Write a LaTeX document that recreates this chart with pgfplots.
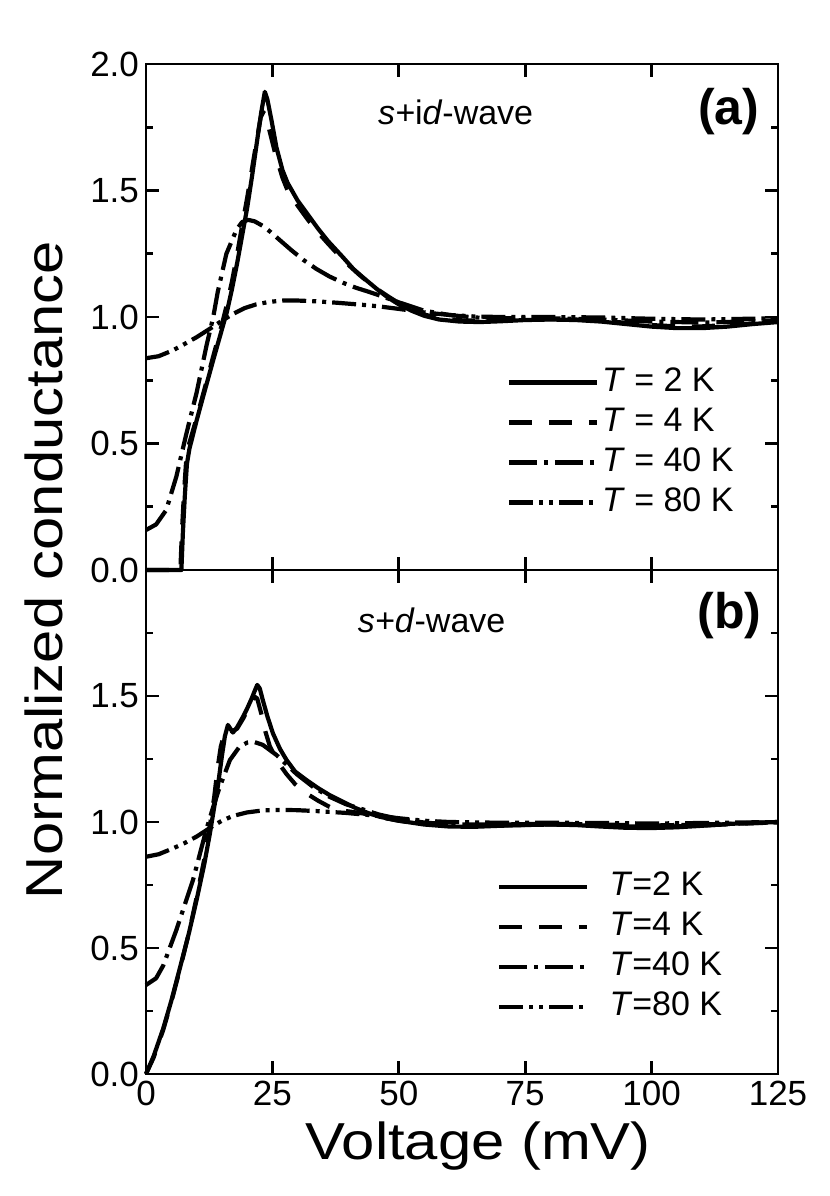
\documentclass[border=0pt]{standalone}
\usepackage{fontspec}
\setmainfont{Liberation Sans}
\newfontfamily\labelfont[FakeStretch=1.15]{Liberation Sans}
\usepackage{pgfplots}
\pgfplotsset{compat=1.18}

\pgfplotstableread{
x y
0 0
7.0 0
7.3 0.15
7.7 0.30
8.1 0.42
8.6 0.48
10.0 0.59
11.5 0.70
13.3 0.83
15.0 0.95
16.0 1.02
17.0 1.11
18.0 1.21
19.0 1.32
20.0 1.43
21.0 1.56
22.0 1.70
22.8 1.81
23.5 1.89
24.0 1.86
24.8 1.78
25.8 1.67
27.0 1.58
28.0 1.53
30.0 1.46
32.0 1.405
34.0 1.35
36.0 1.30
39.0 1.235
41.0 1.19
43.0 1.155
46.0 1.105
48.0 1.075
50.0 1.05
52.5 1.025
55 1.005
58 0.99
62 0.982
66 0.98
70 0.983
75 0.988
80 0.99
85 0.988
90 0.982
95 0.972
100 0.962
105 0.956
110 0.956
115 0.962
120 0.972
125 0.98
}\Atwo

\pgfplotstableread{
x y
0 0
6.8 0
7.1 0.15
7.5 0.30
7.9 0.42
8.4 0.49
10.0 0.60
11.5 0.71
13.3 0.845
15.0 0.97
16.0 1.05
17.0 1.14
18.0 1.245
19.0 1.36
20.0 1.47
21.0 1.59
22.0 1.71
22.7 1.79
23.2 1.81
23.8 1.79
24.5 1.73
25.5 1.65
27.0 1.55
28.0 1.50
30.0 1.44
32.0 1.385
34.0 1.335
36.0 1.29
39.0 1.225
42.0 1.17
45.0 1.12
48.0 1.08
50.0 1.055
52.5 1.03
55 1.01
58 0.995
62 0.987
66 0.985
70 0.987
75 0.99
80 0.992
85 0.99
90 0.985
95 0.977
100 0.968
105 0.963
110 0.963
115 0.968
120 0.975
125 0.982
}\Afour

\pgfplotstableread{
x y
0 0.158
2 0.18
4 0.237
6 0.369
8 0.54
10 0.70
12 0.89
13.3 1.00
14.2 1.10
15.9 1.25
17.9 1.345
19.0 1.375
20.2 1.384
21.5 1.378
23.1 1.36
24.7 1.335
26.4 1.305
28.7 1.265
31.1 1.226
33.7 1.19
36.3 1.16
39.0 1.135
41.6 1.115
44.0 1.10
46.2 1.085
50 1.058
55 1.025
60 1.008
65 0.998
70 0.995
80 0.995
90 0.99
100 0.982
110 0.978
118 0.982
125 0.988
}\Aforty

\pgfplotstableread{
x y
0 0.837
2.5 0.845
5.3 0.868
7.5 0.892
10.0 0.92
13.3 0.962
15.0 0.985
17.2 1.012
19.5 1.035
21.8 1.05
24.5 1.06
27.1 1.065
30 1.065
33.7 1.062
38 1.056
42.9 1.048
46 1.042
50 1.032
55 1.018
60 1.008
65 1.002
70 1.0
80 1.0
90 0.998
100 0.993
110 0.99
125 0.995
}\Aeighty

\pgfplotstableread{
x y
0 0
1.5 0.07
3.4 0.18
5 0.29
6.7 0.42
8.5 0.56
10 0.69
11.5 0.83
12.6 0.95
13.5 1.06
14.2 1.14
15.0 1.26
15.6 1.34
16.2 1.385
16.7 1.37
17.2 1.355
18.0 1.375
19.2 1.418
20.0 1.45
20.9 1.49
21.5 1.52
22.0 1.544
22.5 1.53
23.1 1.484
24.0 1.42
25.1 1.352
26.5 1.29
27.8 1.246
29.5 1.20
31.7 1.167
34 1.135
36.3 1.107
39 1.08
41.6 1.054
44 1.035
46.2 1.021
50 1.005
55 0.99
60 0.982
65 0.981
70 0.985
75 0.988
80 0.99
85 0.988
90 0.982
95 0.977
100 0.976
105 0.979
110 0.985
115 0.992
120 0.997
125 1.0
}\Btwo

\pgfplotstableread{
x y
0 0
1.5 0.065
3.4 0.175
5 0.285
6.7 0.415
8.5 0.56
10 0.70
11.5 0.85
12.6 0.98
13.5 1.10
14.2 1.22
14.8 1.30
15.5 1.35
16.2 1.37
17.0 1.36
18.0 1.37
19.2 1.41
20.2 1.45
21.0 1.48
21.5 1.497
22.0 1.49
22.8 1.43
23.6 1.36
24.5 1.30
26 1.24
27.8 1.19
29.5 1.15
31.7 1.114
34 1.085
36.3 1.06
39 1.045
42.9 1.034
46 1.02
50 1.005
55 0.993
60 0.986
65 0.985
70 0.987
80 0.99
90 0.986
100 0.98
110 0.986
125 1.0
}\Bfour

\pgfplotstableread{
x y
0 0.353
2 0.38
3.4 0.43
6.0 0.571
9.3 0.77
11.9 0.968
13.3 1.06
14.6 1.14
16.6 1.246
18.5 1.299
20 1.315
21.2 1.319
23.1 1.306
25.8 1.266
29.8 1.19
33 1.14
36.3 1.10
39.6 1.07
42.9 1.05
46 1.03
50 1.012
55 0.998
60 0.99
70 0.99
80 0.993
90 0.99
100 0.986
110 0.99
125 0.998
}\Bforty

\pgfplotstableread{
x y
0 0.862
2.5 0.872
5.3 0.895
7.5 0.915
10 0.942
13.3 0.985
15 1.005
17.2 1.024
20 1.038
23.1 1.046
26 1.048
29.8 1.047
34 1.043
39.6 1.036
45 1.026
50 1.015
55 1.005
60 1.0
70 0.997
80 0.997
90 0.996
100 0.994
110 0.996
125 1.0
}\Beighty

\pgfplotsset{
  panel/.style={
    scale only axis, width=316pt,
    xmin=0, xmax=125, ymin=0, ymax=2,
    xtick={0,25,50,75,100,125},
    ytick={0,0.5,1,1.5,2},
    minor y tick num=1,
    tick align=inside,
    major tick length=6.5pt, minor tick length=3.5pt,
    axis line style={line width=1.3pt},
    every tick/.style={line width=1.3pt, black},
    tick label style={font=\fontsize{17.5}{21}\selectfont},
    /pgf/number format/assume math mode=true,
    clip=false,
    legend cell align=left,
    legend style={draw=none, fill=none, inner sep=0pt, outer sep=0pt,
      font=\fontsize{17}{20}\selectfont, row sep=4pt,
      nodes={inner sep=0pt, text height=12.5pt, text depth=3.5pt}},
  },
  c2/.style={black, line width=2.1pt, solid, line join=round},
  c4/.style={black, line width=2.1pt, dash pattern=on 11.5pt off 8.5pt, line join=round},
  c40/.style={black, line width=2.1pt, dash pattern=on 14pt off 3.5pt on 2pt off 3.5pt, line join=round},
  c80/.style={black, line width=2.1pt, dash pattern=on 12pt off 3pt on 2pt off 3pt on 2pt off 3pt, line join=round},
}

\begin{document}
\begin{tikzpicture}
\path[use as bounding box] (-73pt,-61pt) rectangle (342pt,537pt);

% bottom panel (b)
\begin{axis}[panel, height=252pt, at={(0pt,0pt)}, anchor=south west,
  xticklabels={0,25,50,75,100,125},
  yticklabels={0.0,0.5,1.0,1.5,{}},
  xlabel={Voltage (mV)},
  every axis x label/.style={at={(rel axis cs:0.5,0)}, anchor=center, yshift=-36pt, xshift=8pt, font=\labelfont\fontsize{26}{31}\selectfont},
  legend style={at={(rel axis cs:0.556,0.403)}, anchor=north west},
  legend image code/.code={\draw[#1] (0pt,0pt) -- (44pt,0pt); \path (54pt,0pt);},
]
\addplot[c2] table {\Btwo}; \addlegendentry{\textit{T}=2 K}
\addplot[c4] table {\Bfour}; \addlegendentry{\textit{T}=4 K}
\addplot[c40] table {\Bforty}; \addlegendentry{\textit{T}=40 K}
\addplot[c80] table {\Beighty}; \addlegendentry{\textit{T}=80 K}
\node[font=\fontsize{17}{20}\selectfont] at (rel axis cs:0.452,0.901) {\textit{s+d}-wave};
\node[font=\bfseries\fontsize{25}{29}\selectfont] at (rel axis cs:0.923,0.909) {(b)};
\end{axis}

% top panel (a)
\begin{axis}[panel, height=253pt, at={(0pt,252pt)}, anchor=south west,
  xticklabels={},
  yticklabels={0.0,0.5,1.0,1.5,2.0},
  legend style={at={(rel axis cs:0.571,0.402)}, anchor=north west},
  legend image code/.code={\draw[#1] (0pt,0pt) -- (44pt,0pt); \path (45.5pt,0pt);},
]
\addplot[c2] table {\Atwo}; \addlegendentry{\textit{T} = 2 K}
\addplot[c4] table {\Afour}; \addlegendentry{\textit{T} = 4 K}
\addplot[c40] table {\Aforty}; \addlegendentry{\textit{T} = 40 K}
\addplot[c80] table {\Aeighty}; \addlegendentry{\textit{T} = 80 K}
\node[font=\fontsize{17}{20}\selectfont] at (rel axis cs:0.49,0.904) {\textit{s+}i\textit{d}-wave};
\node[font=\bfseries\fontsize{25}{29}\selectfont] at (rel axis cs:0.922,0.906) {(a)};
\end{axis}

\node[rotate=90, font=\labelfont\fontsize{26}{31}\selectfont] at (-51pt,252pt) {Normalized conductance};
\end{tikzpicture}
\end{document}
